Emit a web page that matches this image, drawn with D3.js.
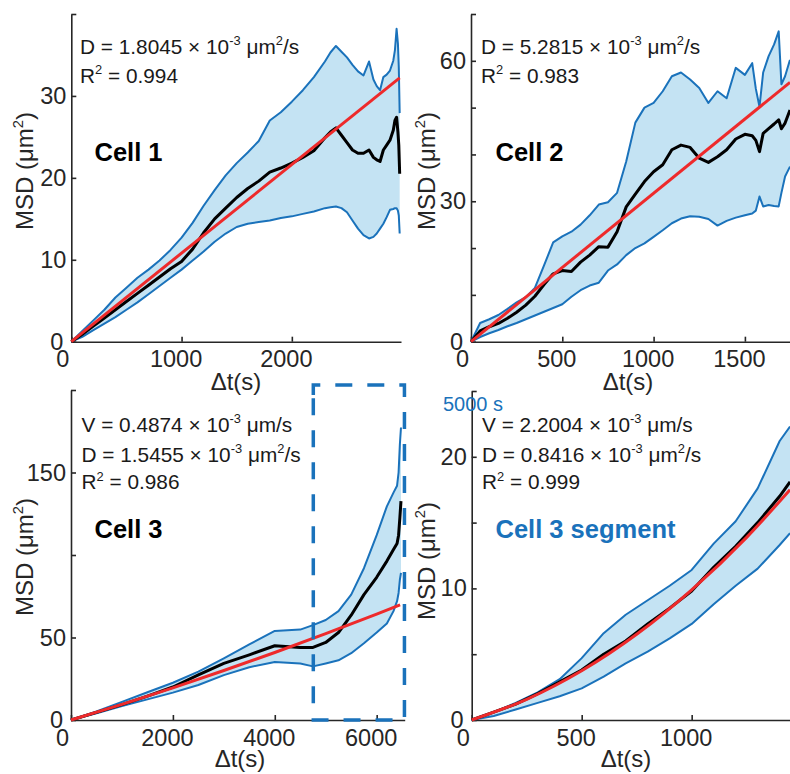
<!DOCTYPE html>
<html>
<head>
<meta charset="utf-8">
<script src="https://cdn.jsdelivr.net/npm/d3@7"></script>
<style>
  body { margin: 0; background: #fff; }
  svg { display: block; font-family: "Liberation Sans", Arial, Helvetica, sans-serif; }
</style>
</head>
<body>
<svg id="chart" width="790" height="774"></svg>
<script>
// ---- values ----
// Cell 1
const cell1T = [0,100,200,300,400,500,600,700,800,900,1000,1100,1200,1300,1400,1500,1600,1700,1800,1900,2000,2100,2200,2300,2350,2400,2450,2500,2550,2600,2650,2700,2740,2770,2800,2830,2860,2890,2920,2935,2950,2962,2970,2978];
const cell1Upper = [0,1.3,2.6,3.9,5.4,6.6,7.8,8.8,9.9,11.2,12.7,14.5,16.6,18.5,20.3,21.8,23.1,24.5,27.0,28.0,29.3,30.7,32.3,34.2,35.3,36.1,35.4,34.7,33.8,33.0,32.5,34.2,32.0,31.2,30.7,32.3,32.6,33.1,34.3,35.6,38.2,36.4,33.5,27.9];
const cell1Mean = [0,0.9,1.9,2.9,3.9,4.9,5.9,6.9,7.9,8.9,9.8,11.3,13.3,15.0,16.3,17.6,18.7,19.6,20.7,21.2,21.8,22.5,23.3,24.9,25.6,26.1,25.2,24.3,23.4,23.0,23.0,23.4,22.5,22.2,22.0,23.4,24.0,24.6,25.8,27.0,27.4,25.6,24.0,20.5];
const cell1Lower = [0,0.6,1.4,2.2,3.0,3.9,4.8,5.8,6.8,7.8,8.8,9.9,11.0,12.2,13.2,14.0,14.4,14.6,14.8,15.1,15.3,15.6,15.9,16.3,16.4,16.5,16.3,15.8,14.8,13.8,13.0,12.6,12.8,13.2,13.8,14.4,15.2,16.1,16.2,16.3,16.3,16.0,15.4,13.2];
const cell1FitT = [0, 2978];
const cell1Fit = [0, 32.2];

// Cell 2
const cell2T = [0,50,100,150,200,250,300,350,400,450,500,550,600,650,700,750,800,850,900,950,1000,1050,1100,1150,1200,1250,1300,1350,1400,1450,1500,1540,1560,1580,1600,1630,1660,1685,1700,1720,1747];
const cell2Upper = [0,4.0,4.8,5.7,7.0,8.4,9.5,11.5,16.3,21.2,22.5,23.5,25.0,27.0,29.3,29.8,31.8,38.5,46.8,50.0,51.0,53.5,56.7,57.5,56.0,54.2,51.0,53.5,52.0,58.5,57.0,59.5,54.0,50.2,57.5,61.0,63.5,66.3,55.0,56.7,60.2];
const cell2Mean = [0,2.3,3.2,3.9,5.0,6.3,7.8,9.7,12.2,14.5,15.2,15.0,17.0,18.5,20.3,20.2,23.5,28.8,31.5,34.2,36.3,37.8,41.0,42.0,41.5,39.2,38.3,39.5,41.0,43.3,44.3,44.0,43.0,40.6,44.5,45.5,46.5,47.4,45.5,46.7,49.5];
const cell2Lower = [0,1.0,1.8,2.5,3.3,4.0,4.8,5.6,6.4,7.2,8.0,9.6,11.0,12.0,12.6,15.2,16.5,18.5,20.0,21.0,22.4,23.8,25.3,26.3,26.8,26.7,26.2,24.8,25.8,26.5,27.0,27.4,28.0,31.0,28.9,29.2,29.0,28.9,31.8,35.3,37.4];
const cell2FitT = [0, 1747];
const cell2Fit = [0, 55.4];

// Cell 3
const cell3T = [0,500,1000,1500,2000,2500,3000,3500,4000,4500,4750,5000,5250,5500,5750,6000,6200,6330,6400,6430,6455,6477];
const cell3Upper = [0,5.2,11.0,16.8,22.6,29.3,37.4,45.8,54.0,54.8,57.5,60.6,66.0,76.0,92.0,112.0,129.5,137.8,142.0,150.0,167.0,177.3];
const cell3Mean = [0,4.6,9.3,14.5,20.0,27.3,34.3,39.5,45.0,44.0,44.0,47.0,53.0,63.5,76.0,86.5,96.3,103.3,107.0,112.0,122.5,132.7];
const cell3Lower = [0,4.0,8.5,12.5,16.6,21.2,27.2,32.0,35.2,34.2,32.5,34.3,36.2,40.5,46.5,53.0,58.5,66.0,72.0,77.0,85.0,89.2];
const cell3FitT = [0,1000,2000,3000,4000,5000,6000,6460];
const cell3Fit = [0,9.5,19.5,30.0,40.9,52.3,64.2,69.8];
const segmentWindow = [4756, 6545];   // time range boxed as "Cell 3 segment"
const segmentTop = 203;

// Cell 3 segment
const segT = [0,100,200,300,400,500,600,700,800,900,1000,1100,1200,1300,1400,1447];
const segUpper = [0,0.6,1.3,2.1,3.1,4.7,6.6,8.0,9.1,10.2,11.4,13.4,15.1,17.6,21.2,22.3];
const segMean = [0,0.6,1.2,2.0,2.9,3.8,5.0,6.0,7.3,8.5,9.8,11.6,13.2,15.0,17.0,18.1];
const segLower = [0,0.3,0.8,1.3,1.8,2.4,3.3,4.3,5.2,6.2,7.3,8.8,10.2,11.5,13.3,14.2];
const segFitT = [0,250,500,750,1000,1250,1447];
const segFit = [0,1.57,3.74,6.51,9.89,13.88,17.5];

// ---- style ----
const AXIS = "#262626";
const BLUE = "#1a72bb";
const FILL = "#c4e3f3";
const RED = "#ee2a2b";

const svg = d3.select("#chart");

function richText(sel, parts, size) {
	let shift = 0;
	for (const [str, sup] of parts) {
		const target = sup ? -0.42 * size : 0;
		sel.append("tspan")
			.attr("font-size", sup ? size * 0.62 : size)
			.attr("dy", target - shift)
			.text(str);
		shift = target;
	}
	return sel;
}

const panels = [
	{
		t: cell1T, upper: cell1Upper, mean: cell1Mean, lower: cell1Lower, fitT: cell1FitT, fit: cell1Fit,
		xDomain: [0, 2990], yDomain: [0, 40], xRange: [71.3, 401], yRange: [341.7, 14],
		xTicks: [0, 1000, 2000], yTicks: [0, 10, 20, 30, 40], yLabels: [0, 10, 20, 30],
		stats: [
			[["D = 1.8045 \u00d7 10"], ["-3", 1], [" \u03bcm"], ["2", 1], ["/s"]],
			[["R"], ["2", 1], [" = 0.994"]]
		],
		statsX: 80, statsY: [54, 83],
		name: "Cell 1", nameColor: "#000", nameX: 94.5, nameY: 161,
		yLab: [33, 171], xLab: [236, 390]
	},
	{
		t: cell2T, upper: cell2Upper, mean: cell2Mean, lower: cell2Lower, fitT: cell2FitT, fit: cell2Fit,
		xDomain: [0, 1747], yDomain: [0, 70], xRange: [471, 790], yRange: [341.7, 14],
		xTicks: [0, 500, 1000, 1500], yTicks: [0, 10, 20, 30, 40, 50, 60, 70], yLabels: [0, 30, 60],
		stats: [
			[["D = 5.2815 \u00d7 10"], ["-3", 1], [" \u03bcm"], ["2", 1], ["/s"]],
			[["R"], ["2", 1], [" = 0.983"]]
		],
		statsX: 481, statsY: [54, 83],
		name: "Cell 2", nameColor: "#000", nameX: 495.5, nameY: 161,
		yLab: [435, 171], xLab: [628, 390]
	},
	{
		t: cell3T, upper: cell3Upper, mean: cell3Mean, lower: cell3Lower, fitT: cell3FitT, fit: cell3Fit,
		xDomain: [0, 6550], yDomain: [0, 200], xRange: [71, 404.7], yRange: [720, 390],
		xTicks: [0, 2000, 4000, 6000], yTicks: [0, 50, 100, 150, 200], yLabels: [0, 50, 150],
		stats: [
			[["V = 0.4874 \u00d7 10"], ["-3", 1], [" \u03bcm/s"]],
			[["D = 1.5455 \u00d7 10"], ["-3", 1], [" \u03bcm"], ["2", 1], ["/s"]],
			[["R"], ["2", 1], [" = 0.986"]]
		],
		statsX: 81.5, statsY: [431.7, 461.7, 489.3],
		name: "Cell 3", nameColor: "#000", nameX: 94.5, nameY: 538,
		yLab: [33, 557], xLab: [240, 767],
		box: true, smoothFit: true
	},
	{
		t: segT, upper: segUpper, mean: segMean, lower: segLower, fitT: segFitT, fit: segFit,
		xDomain: [0, 1447], yDomain: [0, 25], xRange: [471.7, 790], yRange: [720, 391],
		xTicks: [0, 500, 1000], yTicks: [0, 5, 10, 15, 20, 25], yLabels: [0, 10, 20],
		stats: [
			[["V = 2.2004 \u00d7 10"], ["-3", 1], [" \u03bcm/s"]],
			[["D = 0.8416 \u00d7 10"], ["-3", 1], [" \u03bcm"], ["2", 1], ["/s"]],
			[["R"], ["2", 1], [" = 0.999"]]
		],
		statsX: 482, statsY: [431.7, 461.7, 489.3],
		name: "Cell 3 segment", nameColor: BLUE, nameX: 495.5, nameY: 538,
		yLab: [435, 561], xLab: [626, 767],
		smoothFit: true
	}
];

for (const p of panels) {
	const x = d3.scaleLinear().domain(p.xDomain).range(p.xRange);
	const y = d3.scaleLinear().domain(p.yDomain).range(p.yRange);
	const g = svg.append("g");

	// Axes (MATLAB style: ticks point inward, no box)
	const ax = g.append("g")
		.attr("transform", `translate(0,${p.yRange[0]})`)
		.call(d3.axisBottom(x).tickValues(p.xTicks).tickFormat(d => String(d))
			.tickSizeInner(-5).tickSizeOuter(0).tickPadding(9));
	const ay = g.append("g")
		.attr("transform", `translate(${p.xRange[0]},0)`)
		.call(d3.axisLeft(y).tickValues(p.yTicks).tickFormat(d => p.yLabels.includes(d) ? String(d) : "")
			.tickSizeInner(-5).tickSizeOuter(0).tickPadding(5));
	for (const a of [ax, ay]) {
		a.attr("font-family", null).attr("font-size", 23.5);
		a.select(".domain").attr("stroke", AXIS).attr("stroke-width", 1.6);
		a.selectAll(".tick line").attr("stroke", AXIS).attr("stroke-width", 1.6);
		a.selectAll(".tick text").attr("fill", AXIS);
	}
	ax.selectAll(".tick text").attr("dx", d => d === 0 ? -9 : -6);
	ay.selectAll(".tick text").attr("dx", d => d === 0 ? -3 : 0);

	// Band between upper and lower
	const band = p.t.map((t, i) => [t, p.upper[i]])
		.concat(p.t.map((t, i) => [t, p.lower[i]]).reverse());
	const line = d3.line().x(d => x(d[0])).y(d => y(d[1]));
	g.append("path")
		.attr("d", line(band) + "Z")
		.attr("fill", FILL)
		.attr("stroke", "none");

	for (const series of [p.upper, p.lower]) {
		g.append("path")
			.attr("d", line(p.t.map((t, i) => [t, series[i]])))
			.attr("fill", "none")
			.attr("stroke", BLUE)
			.attr("stroke-width", 2)
			.attr("stroke-linejoin", "round");
	}

	g.append("path")
		.attr("d", line(p.t.map((t, i) => [t, p.mean[i]])))
		.attr("fill", "none")
		.attr("stroke", "#000")
		.attr("stroke-width", 3)
		.attr("stroke-linejoin", "round");

	const fitLine = d3.line().x(d => x(d[0])).y(d => y(d[1]))
		.curve(p.smoothFit ? d3.curveMonotoneX : d3.curveLinear);
	g.append("path")
		.attr("d", fitLine(p.fitT.map((t, i) => [t, p.fit[i]])))
		.attr("fill", "none")
		.attr("stroke", RED)
		.attr("stroke-width", 3);

	// Labels
	g.append("text")
		.attr("x", p.xLab[0]).attr("y", p.xLab[1])
		.attr("text-anchor", "middle")
		.attr("font-size", 24)
		.attr("fill", AXIS)
		.text("\u0394t(s)");

	richText(g.append("text")
		.attr("transform", `translate(${p.yLab[0]},${p.yLab[1]}) rotate(-90)`)
		.attr("text-anchor", "middle")
		.attr("fill", AXIS), [["MSD (\u03bcm"], ["2", 1], [")"]], 24);

	p.stats.forEach((parts, i) => {
		richText(g.append("text")
			.attr("x", p.statsX).attr("y", p.statsY[i])
			.attr("fill", "#1a1a1a"), parts, 20.8);
	});

	g.append("text")
		.attr("x", p.nameX).attr("y", p.nameY)
		.attr("font-size", 25.5)
		.attr("font-weight", "bold")
		.attr("fill", p.nameColor)
		.text(p.name);

	// Dashed box marking the segment analysed in the last panel
	if (p.box) {
		const x0 = x(segmentWindow[0]), x1 = x(segmentWindow[1]);
		const yT = y(segmentTop), yB = y(0);
		g.append("path")
			.attr("d", `M${x0},${yT + 10}V${yT}H${x1}V${yB}H${x0}Z`)
			.attr("fill", "none")
			.attr("stroke", BLUE)
			.attr("stroke-width", 3.5)
			.attr("stroke-dasharray", "17,15");
	}
}

svg.append("text")
	.attr("x", 443).attr("y", 411)
	.attr("font-size", 20)
	.attr("fill", BLUE)
	.text("5000 s");
</script>
</body>
</html>
